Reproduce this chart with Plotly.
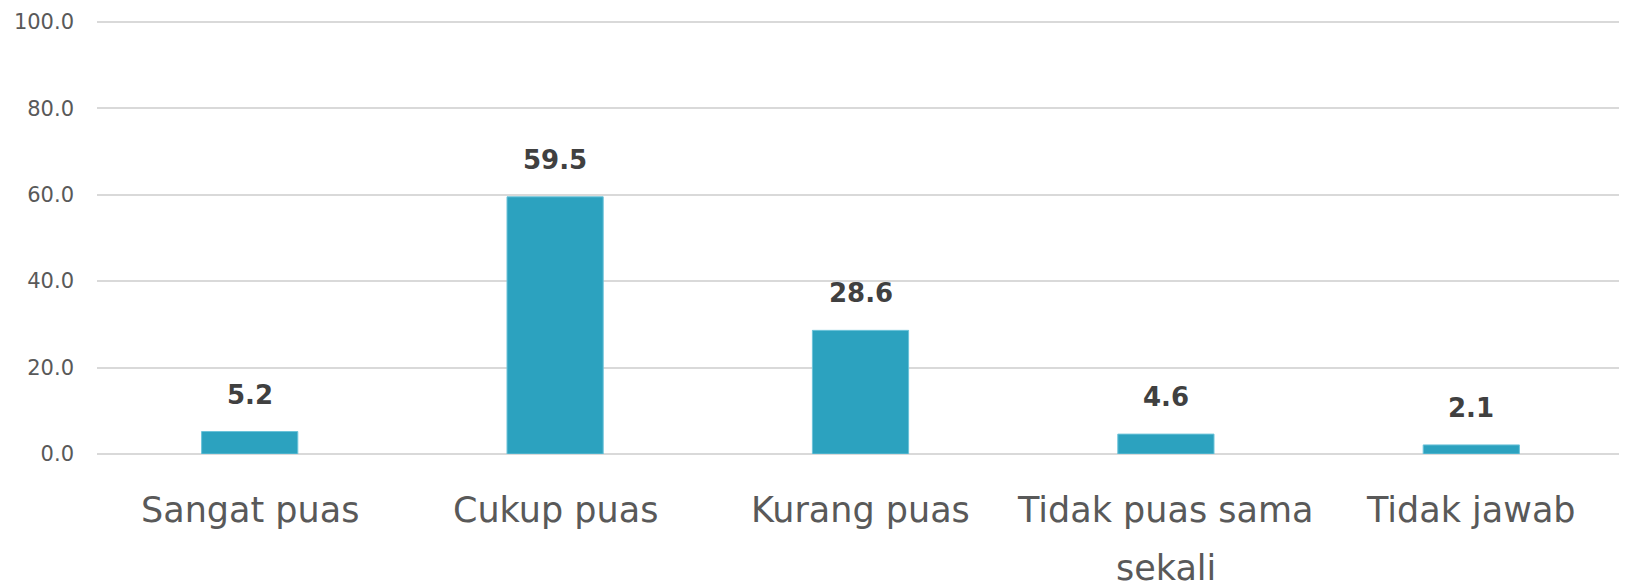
import plotly.graph_objects as go

categories = ["Sangat puas", "Cukup puas", "Kurang puas", "Tidak puas sama<br>sekali", "Tidak jawab"]
values = [5.2, 59.5, 28.6, 4.6, 2.1]
y_ticks = [0, 20, 40, 60, 80, 100]

FONT = "DejaVu Sans"

fig = go.Figure()
fig.add_trace(go.Bar(
    x=categories, y=values,
    marker=dict(color="#2CA2BF", line=dict(color="#6CC3D9", width=1)),
    width=0.315,
    hoverinfo="skip",
))

# value labels above bars
for c, v in zip(categories, values):
    fig.add_annotation(x=c, y=v, text=f"{v:.1f}", showarrow=False,
                       yanchor="bottom", yshift=20,
                       font=dict(family=FONT, size=26, color="#404040", weight="bold"))

# category labels (one annotation per line for wider line spacing)
for c in categories:
    for i, line in enumerate(c.split("<br>")):
        fig.add_annotation(x=c, xref="x", y=0, yref="paper", text=line,
                           showarrow=False, yanchor="middle", yshift=-56 - 58 * i,
                           font=dict(family=FONT, size=35, color="#595959"))

# page body has an 8px default margin, so the figure is 8px smaller
fig.update_layout(
    width=1619, height=574,
    margin=dict(l=89, r=3, t=12, b=128),
    plot_bgcolor="white", paper_bgcolor="white",
    showlegend=False,
    font=dict(family=FONT, color="#595959"),
)
fig.update_xaxes(
    showticklabels=False, automargin=False,
    showgrid=False, showline=False, ticks="",
)
fig.update_yaxes(
    range=[0, 100.4], tickvals=y_ticks, tickformat=".1f", automargin=False,
    tickfont=dict(family=FONT, size=21, color="#595959"),
    ticklabelstandoff=22,
    showgrid=True, gridcolor="#D9D9D9", gridwidth=2,
    zeroline=True, zerolinecolor="#D9D9D9", zerolinewidth=2,
    showline=False, ticks="",
)
fig.write_html("out.html")
